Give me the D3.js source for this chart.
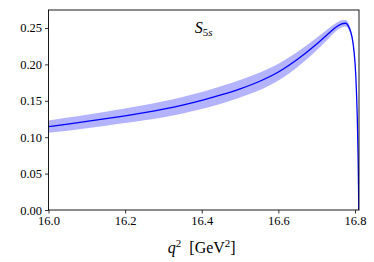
<!DOCTYPE html>
<html>
<head>
	<meta charset="utf-8">
	<title>S5s</title>
	<script type="text/javascript" src="https://d3js.org/d3.v7.min.js"></script>
	<style type="text/css">
	     body{ margin:0; background:#fff; }
	     .tick text{ font-family:"Liberation Serif","DejaVu Serif",serif; font-size:12.5px; fill:#000; }
	     .lbl{ font-family:"Liberation Serif","DejaVu Serif",serif; fill:#000; }
	</style>
</head>
<body>
<div id="chart"></div>
<script type="text/javascript">
    // q^2 points (GeV^2), central value and band half width
    var q2 = [16.00,16.05,16.10,16.15,16.20,16.25,16.30,16.35,16.40,16.45,16.50,16.55,16.60,16.65,16.70,16.73,16.75,16.765,16.775,16.785,16.792,16.797,16.802,16.806,16.808,16.81];
    var s5s = [0.1145,0.1180,0.1216,0.1254,0.1294,0.1337,0.1385,0.1440,0.1505,0.1580,0.1665,0.1765,0.1895,0.2070,0.2280,0.2420,0.2510,0.2555,0.2565,0.2500,0.2380,0.2200,0.1850,0.1250,0.0750,0.0];
    var err = [0.0085,0.009,0.0093,0.0097,0.010,0.0105,0.011,0.0113,0.0117,0.012,0.012,0.012,0.0115,0.0105,0.0085,0.007,0.0055,0.005,0.0045,0.004,0.0035,0.003,0.002,0.0015,0.001,0.0];
    var xTicks = [16.0,16.2,16.4,16.6,16.8];
    var yTicks = [0.00,0.05,0.10,0.15,0.20,0.25];

    var W=374, H=262;
    var mLeft=48.5, mRight=359, mTop=10, mBottom=210;

    var x = d3.scaleLinear().domain([16.0,16.8104]).range([mLeft,mRight]);
    var y = d3.scaleLinear().domain([0,0.2747]).range([mBottom,mTop]);

    var svg = d3.select("#chart").append("svg").attr("width",W).attr("height",H);

    var pts = q2.map(function(d,i){ return {q:d, v:s5s[i], e:err[i]}; });

    svg.append("defs").append("clipPath").attr("id","clip")
       .append("rect").attr("x",mLeft).attr("y",mTop).attr("width",mRight-mLeft).attr("height",mBottom-mTop);

    var g = svg.append("g").attr("clip-path","url(#clip)");

    // band
    g.append("path").datum(pts)
      .attr("fill","#b3b3ff")
      .attr("d", d3.area().curve(d3.curveMonotoneX)
          .x(function(d){ return x(d.q); })
          .y0(function(d){ return y(d.v-d.e); })
          .y1(function(d){ return y(d.v+d.e); }));

    // central line
    g.append("path").datum(pts)
      .attr("fill","none")
      .attr("stroke","#0000ff")
      .attr("stroke-width",1.3)
      .attr("d", d3.line().curve(d3.curveMonotoneX)
          .x(function(d){ return x(d.q); })
          .y(function(d){ return y(d.v); }));

    // axes
    svg.append("g").attr("transform","translate(0,"+mBottom+")")
      .call(d3.axisBottom(x).tickValues(xTicks).tickFormat(d3.format(".1f")).tickSizeOuter(0).tickSize(3.5).tickPadding(3));
    svg.append("g").attr("transform","translate("+mLeft+",0)")
      .call(d3.axisLeft(y).tickValues(yTicks).tickFormat(d3.format(".2f")).tickSizeOuter(0).tickSize(3.5).tickPadding(3));
    svg.selectAll(".domain").remove();
    svg.selectAll(".tick line").attr("stroke","#000").attr("stroke-width",0.8);

    // frame
    svg.append("rect").attr("x",mLeft).attr("y",mTop).attr("width",mRight-mLeft).attr("height",mBottom-mTop)
      .attr("fill","none").attr("stroke","#000").attr("stroke-width",0.9);

    // title
    var t = svg.append("text").attr("class","lbl").attr("x",(mLeft+mRight)/2).attr("y",33)
      .attr("text-anchor","middle").style("font-size","16px");
    t.append("tspan").style("font-style","italic").text("S");
    t.append("tspan").attr("dy",3).style("font-size","11px").text("5");
    t.append("tspan").attr("dy",0).style("font-size","11px").style("font-style","italic").text("s");

    // x label
    var xl = svg.append("text").attr("class","lbl").attr("x",(mLeft+mRight)/2-2).attr("y",253)
      .attr("text-anchor","middle").style("font-size","16px");
    xl.append("tspan").style("font-style","italic").text("q");
    xl.append("tspan").attr("dy",-6).style("font-size","11px").text("2");
    xl.append("tspan").attr("dy",6).text("\u2002[GeV");
    xl.append("tspan").attr("dy",-6).style("font-size","11px").text("2");
    xl.append("tspan").attr("dy",6).text("]");
</script>
</body>
</html>
